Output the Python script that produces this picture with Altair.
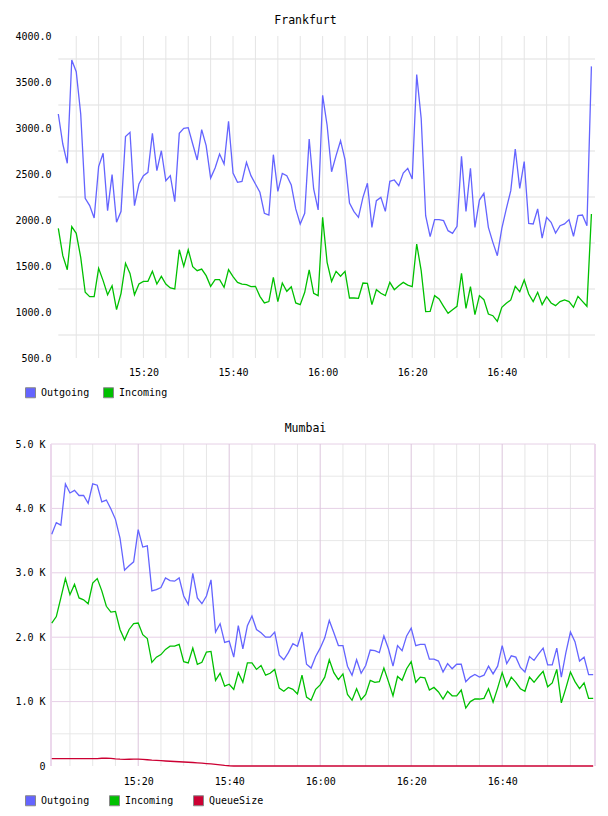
import altair as alt
import pandas as pd

FONT = "DejaVu Sans Mono"

# one sample per minute, 15:01 .. 17:00
times = pd.date_range("2024-01-01 15:01:00", periods=120, freq="min").strftime("%Y-%m-%dT%H:%M:%S").tolist()

fra_out = [3152, 2826, 2616, 3739, 3612, 3152, 2236, 2156, 2022, 2580,
           2725, 2102, 2493, 1975, 2095, 2906, 2953, 2156, 2391, 2482,
           2518, 2942, 2536, 2753, 2427, 2482, 2199, 2942, 2996, 3004,
           2826, 2652, 2982, 2808, 2456, 2565, 2717, 2609, 3072, 2511,
           2409, 2420, 2627, 2482, 2391, 2301, 2073, 2054, 2710, 2311,
           2507, 2482, 2380, 2120, 1957, 2073, 2880, 2337, 2109, 3355,
           3030, 2525, 2699, 2862, 2656, 2185, 2091, 2029, 2246, 2399,
           1920, 2210, 2246, 2094, 2420, 2435, 2373, 2511, 2562, 2446,
           3580, 3105, 2047, 1819, 2004, 2004, 1993, 1884, 1855, 1931,
           2692, 2094, 2562, 1920, 2217, 2290, 1920, 1757, 1612, 1909,
           2120, 2319, 2772, 2344, 2634, 1964, 1957, 2120, 1804, 2029,
           1975, 1859, 1938, 1957, 2004, 1823, 2047, 2054, 1938, 3670]

fra_in = [1909, 1612, 1460, 1928, 1855, 1594, 1214, 1167, 1167, 1474,
          1341, 1188, 1286, 1025, 1203, 1529, 1420, 1188, 1304, 1333,
          1333, 1442, 1304, 1388, 1304, 1261, 1250, 1677, 1496, 1677,
          1493, 1449, 1467, 1395, 1279, 1351, 1351, 1268, 1460, 1384,
          1322, 1304, 1297, 1275, 1279, 1170, 1098, 1113, 1377, 1113,
          1315, 1225, 1275, 1098, 1080, 1214, 1457, 1203, 1178, 2029,
          1540, 1333, 1442, 1388, 1442, 1152, 1152, 1149, 1315, 1312,
          1080, 1243, 1203, 1178, 1322, 1243, 1286, 1322, 1293, 1275,
          1739, 1449, 1004, 1007, 1178, 1141, 1062, 986, 1025, 1062,
          1420, 1040, 1275, 971, 1178, 1134, 978, 960, 899, 1051,
          1094, 1131, 1279, 1221, 1348, 1196, 1113, 1214, 1080, 1167,
          1098, 1069, 1113, 1131, 1113, 1051, 1170, 1116, 1062, 2065]

# Mumbai, in thousands
mum_out = [3.60, 3.78, 3.74, 4.38, 4.24, 4.28, 4.20, 4.20, 4.08, 4.38,
           4.36, 4.10, 4.13, 3.99, 3.83, 3.54, 3.04, 3.11, 3.17, 3.67,
           3.40, 3.42, 2.72, 2.74, 2.77, 2.92, 2.88, 2.87, 2.92, 2.64,
           2.51, 2.99, 2.61, 2.52, 2.64, 2.89, 2.08, 2.21, 1.92, 1.94,
           1.69, 2.18, 1.82, 2.18, 2.33, 2.12, 2.07, 2.00, 2.00, 2.08,
           1.72, 1.65, 1.76, 1.90, 1.86, 2.08, 1.58, 1.52, 1.70, 1.83,
           1.99, 2.26, 2.07, 1.87, 1.87, 1.55, 1.41, 1.65, 1.44, 1.56,
           1.80, 1.79, 1.76, 2.02, 1.82, 1.55, 1.87, 1.79, 2.02, 2.14,
           1.87, 1.89, 1.89, 1.66, 1.66, 1.63, 1.46, 1.59, 1.51, 1.58,
           1.58, 1.31, 1.38, 1.42, 1.38, 1.41, 1.55, 1.43, 1.55, 1.87,
           1.59, 1.71, 1.69, 1.53, 1.46, 1.70, 1.64, 1.74, 1.83, 1.57,
           1.57, 1.83, 1.38, 1.76, 2.08, 1.93, 1.63, 1.69, 1.42, 1.42]

mum_in = [2.22, 2.32, 2.61, 2.91, 2.66, 2.82, 2.61, 2.58, 2.52, 2.84,
          2.91, 2.72, 2.48, 2.39, 2.40, 2.12, 1.96, 2.12, 2.21, 2.22,
          2.04, 1.98, 1.61, 1.69, 1.73, 1.81, 1.86, 1.86, 1.89, 1.62,
          1.60, 1.83, 1.58, 1.61, 1.77, 1.78, 1.33, 1.44, 1.24, 1.27,
          1.19, 1.45, 1.30, 1.60, 1.60, 1.50, 1.56, 1.41, 1.44, 1.50,
          1.21, 1.16, 1.22, 1.19, 1.12, 1.41, 1.07, 1.02, 1.19, 1.26,
          1.38, 1.65, 1.45, 1.34, 1.43, 1.11, 1.02, 1.20, 1.03, 1.11,
          1.33, 1.30, 1.31, 1.52, 1.31, 1.09, 1.39, 1.33, 1.51, 1.62,
          1.30, 1.38, 1.37, 1.18, 1.22, 1.15, 1.04, 1.16, 1.09, 1.09,
          1.18, 0.90, 1.00, 1.04, 1.04, 1.05, 1.20, 0.99, 1.21, 1.45,
          1.23, 1.38, 1.30, 1.20, 1.16, 1.38, 1.30, 1.39, 1.47, 1.23,
          1.29, 1.50, 0.98, 1.21, 1.46, 1.31, 1.20, 1.29, 1.05, 1.05]

mum_queue = [0.115, 0.113, 0.113, 0.114, 0.114, 0.115, 0.115, 0.114, 0.113, 0.113,
             0.115, 0.120, 0.122, 0.118, 0.110, 0.106, 0.104, 0.105, 0.107, 0.107,
             0.103, 0.097, 0.090, 0.086, 0.082, 0.078, 0.074, 0.070, 0.066, 0.062,
             0.058, 0.054, 0.049, 0.044, 0.038, 0.032, 0.025, 0.018, 0.010, 0.004] + [0.0] * 80

fra_series = ["Outgoing", "Incoming"]
fra_colors = ["#6464ff", "#00c000"]
mum_series = ["Outgoing", "Incoming", "QueueSize"]
mum_colors = ["#6464ff", "#00c000", "#cc0033"]

# axis ticks / grid positions
fra_labels = [500, 1000, 1500, 2000, 2500, 3000, 3500, 4000]
fra_grid = [750, 1250, 1750, 2250, 2750, 3250, 3750]
mum_labels = [0, 1, 2, 3, 4, 5]
mum_grid_minor = [0.5, 1.5, 2.5, 3.5, 4.5]
mum_grid_major = [1, 2, 3, 4, 5]
x_grid_minor = ["2024-01-01T15:05:00", "2024-01-01T15:10:00", "2024-01-01T15:15:00",
                "2024-01-01T15:25:00", "2024-01-01T15:30:00", "2024-01-01T15:35:00",
                "2024-01-01T15:45:00", "2024-01-01T15:50:00", "2024-01-01T15:55:00",
                "2024-01-01T16:05:00", "2024-01-01T16:10:00", "2024-01-01T16:15:00",
                "2024-01-01T16:25:00", "2024-01-01T16:30:00", "2024-01-01T16:35:00",
                "2024-01-01T16:45:00", "2024-01-01T16:50:00", "2024-01-01T16:55:00"]
x_grid_major = ["2024-01-01T15:20:00", "2024-01-01T15:40:00", "2024-01-01T16:00:00",
                "2024-01-01T16:20:00", "2024-01-01T16:40:00"]
fra_span = ["2024-01-01T15:01:00", "2024-01-01T17:00:48"]
mum_span = ["2024-01-01T15:00:50", "2024-01-01T17:00:24"]


def long_df(names, cols):
    rows = []
    for name, vals in zip(names, cols):
        for t, v in zip(times, vals):
            rows.append({"time": t, "series": name, "value": v})
    return pd.DataFrame(rows)


fra_df = long_df(fra_series, [fra_out, fra_in])
mum_df = long_df(mum_series, [mum_out, mum_in, mum_queue])


def dt(h, m, s=0):
    return alt.DateTime(year=2024, month=1, date=1, hours=h, minutes=m, seconds=s)


x_label_values = [dt(15, 20), dt(15, 40), dt(16, 0), dt(16, 20), dt(16, 40)]


def x_axis(pad):
    return alt.Axis(values=x_label_values, format="%H:%M", grid=False, ticks=False,
                    domain=False, labelFont=FONT, labelFontSize=10, labelColor="#000",
                    labelPadding=pad, labelFlush=False, title=None)


def legend(lx, colpad):
    return alt.Legend(orient="none", legendX=lx, legendY=351, direction="horizontal",
                      symbolType="square", symbolSize=100, symbolOpacity=1,
                      symbolStrokeColor="#888888", symbolStrokeWidth=1,
                      labelFont=FONT, labelFontSize=10,
                      labelColor="#000", labelOffset=5, columnPadding=colpad,
                      labelLimit=200, title=None)


# line colours use the same mapping, listed in reverse so that this scale
# stays separate from the legend's fill scale
def line_color(series, colors):
    return alt.Color("series:N", scale=alt.Scale(domain=series[::-1], range=colors[::-1]),
                     legend=None)


def legend_fill(series, colors, lx, colpad):
    return alt.Fill("series:N", scale=alt.Scale(domain=series, range=colors),
                    legend=legend(lx, colpad))


# ---------------- Frankfurt ----------------
x_top_scale = alt.Scale(domain=[dt(14, 59, 22), dt(17, 0, 48)])
x_top = alt.X("time:T", scale=x_top_scale, axis=x_axis(9))
y_top_axis = alt.Axis(values=fra_labels, format=".1f", grid=False, ticks=False, domain=False,
                      labelFont=FONT, labelFontSize=10, labelColor="#000",
                      labelPadding=0, title=None)
y_top_scale = alt.Scale(domain=[500, 4000], nice=False, zero=False)

top_hgrid = alt.Chart(pd.DataFrame({"v": fra_grid, "t0": fra_span[0], "t1": fra_span[1]})).mark_rule(
    color="#efefef", strokeWidth=2).encode(
    x=alt.X("t0:T", scale=x_top_scale, axis=x_axis(9)), x2="t1:T",
    y=alt.Y("v:Q", scale=y_top_scale, axis=y_top_axis))

top_vgrid = alt.Chart(pd.DataFrame({"t": x_grid_minor + x_grid_major})).mark_rule(
    color="#e4e4e4", strokeWidth=1).encode(
    x=alt.X("t:T", scale=x_top_scale, axis=x_axis(9)))

top_lines = alt.Chart(fra_df).mark_line(strokeWidth=1.3).encode(
    x=x_top,
    y=alt.Y("value:Q", scale=y_top_scale, axis=y_top_axis),
    color=line_color(fra_series, fra_colors),
)

# zero-size squares: only their legend (filled swatches) is visible
top_legend = alt.Chart(fra_df).mark_square(filled=True, size=0).encode(
    x=x_top,
    y=alt.Y("value:Q", scale=y_top_scale, axis=y_top_axis),
    fill=legend_fill(fra_series, fra_colors, -26, 11),
)

top = alt.layer(top_hgrid, top_vgrid, top_lines, top_legend).properties(
    width=544, height=322,
    title=alt.TitleParams("Frankfurt", font=FONT, fontSize=11.5, fontWeight="normal",
                          color="#000", frame="bounds", anchor="middle", offset=5),
)

# ---------------- Mumbai ----------------
x_bot_scale = alt.Scale(domain=[dt(15, 0, 50), dt(17, 0, 24)])
x_bot = alt.X("time:T", scale=x_bot_scale, axis=x_axis(10))
y_bot_axis = alt.Axis(values=mum_labels,
                      labelExpr="datum.value == 0 ? '0' : format(datum.value, '.1f') + ' K'",
                      grid=False, ticks=False, domain=False,
                      labelFont=FONT, labelFontSize=10, labelColor="#000",
                      labelPadding=6, title=None)
y_bot_scale = alt.Scale(domain=[0, 5], nice=False)

bot_hminor = alt.Chart(pd.DataFrame({"v": mum_grid_minor})).mark_rule(
    color="#e8e8e8", strokeWidth=1).encode(
    y=alt.Y("v:Q", scale=y_bot_scale, axis=y_bot_axis))
bot_hmajor = alt.Chart(pd.DataFrame({"v": mum_grid_major})).mark_rule(
    color="#e6d0e6", strokeWidth=1).encode(
    y=alt.Y("v:Q", scale=y_bot_scale, axis=y_bot_axis))
bot_vminor = alt.Chart(pd.DataFrame({"t": x_grid_minor})).mark_rule(
    color="#e6e6e6", strokeWidth=1).encode(
    x=alt.X("t:T", scale=x_bot_scale, axis=x_axis(10)))
bot_vmajor = alt.Chart(pd.DataFrame({"t": x_grid_major})).mark_rule(
    color="#dcc6dc", strokeWidth=1).encode(
    x=alt.X("t:T", scale=x_bot_scale, axis=x_axis(10)))
bot_frame = alt.Chart(pd.DataFrame({"t": mum_span})).mark_rule(
    color="#ecd8ec", strokeWidth=2).encode(
    x=alt.X("t:T", scale=x_bot_scale, axis=x_axis(10)))

bot_lines = alt.Chart(mum_df).mark_line(strokeWidth=1.3).encode(
    x=x_bot,
    y=alt.Y("value:Q", scale=y_bot_scale, axis=y_bot_axis),
    color=line_color(mum_series, mum_colors),
)

bot_legend = alt.Chart(mum_df).mark_square(filled=True, size=0).encode(
    x=x_bot,
    y=alt.Y("value:Q", scale=y_bot_scale, axis=y_bot_axis),
    fill=legend_fill(mum_series, mum_colors, -26, 17),
)

bottom = alt.layer(bot_hminor, bot_vminor, bot_hmajor, bot_vmajor, bot_frame,
                   bot_lines, bot_legend).properties(
    width=544, height=322,
    title=alt.TitleParams("Mumbai", font=FONT, fontSize=11.5, fontWeight="normal",
                          color="#000", frame="bounds", anchor="middle", offset=5),
)

chart = alt.vconcat(top, bottom, spacing=22).resolve_scale(
    color="independent", fill="independent", x="independent", y="independent"
).resolve_legend(fill="independent", color="independent").properties(
    padding={"left": 14, "top": 14, "right": 10, "bottom": 5}
).configure_view(strokeWidth=0)

chart.save("out.html", embed_options={"renderer": "svg", "actions": False})
